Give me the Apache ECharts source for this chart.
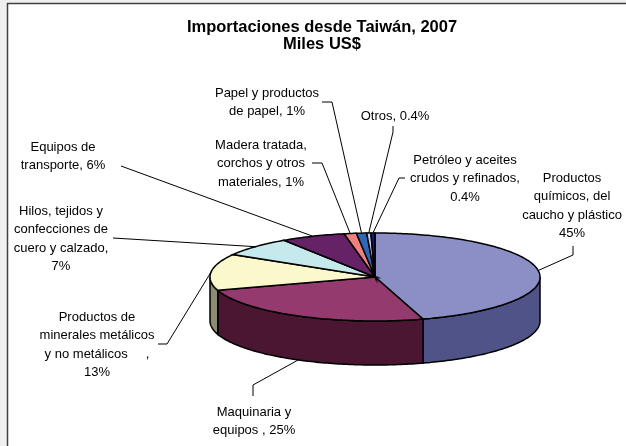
<!DOCTYPE html>
<html>
<head>
<meta charset="utf-8">
<title>Importaciones desde Taiwán, 2007</title>
<script src="https://cdn.jsdelivr.net/npm/echarts@6/dist/echarts.min.js"></script>
<style>
html, body { margin: 0; padding: 0; background: #eff1ef; }
#main { width: 626px; height: 446px; }
</style>
</head>
<body>
<div id="main"></div>
<script>
// participación (%) de cada grupo de productos
const categorias = [
    'Productos químicos, del caucho y plástico',
    'Maquinaria y equipos ',
    'Productos de minerales metálicos y no metálicos     ',
    'Hilos, tejidos y confecciones de cuero y calzado',
    'Equipos de transporte',
    'Madera tratada, corchos y otros materiales',
    'Papel y productos de papel',
    'Otros',
    'Petróleo y aceites crudos y refinados'
];
const valores = [45.3, 24.8, 13.4, 7.2, 6.3, 1.2, 1.0, 0.4, 0.4];

// texto de las etiquetas como lo corta Excel ({p} = porcentaje)
const etiquetas = [
    ['Productos', 'químicos, del', 'caucho y plástico', '{p}'],
    ['Maquinaria y', 'equipos , {p}'],
    ['Productos de', 'minerales metálicos', 'y no metálicos     ,', '{p}'],
    ['Hilos, tejidos y', 'confecciones de', 'cuero y calzado,', '{p}'],
    ['Equipos de', 'transporte, {p}'],
    ['Madera tratada,', 'corchos y otros', 'materiales, {p}'],
    ['Papel y productos', 'de papel, {p}'],
    ['Otros, {p}'],
    ['Petróleo y aceites', 'crudos y refinados,', '{p}']
];

const colores = ['#8b8fc5', '#953a6e', '#fbf9cb', '#c6e9ee', '#662266', '#f08080', '#2e66b8', '#c8c8f0', '#1a1a6a'];
const coloresLado = ['#4f5387', '#4a1632', '#8c8c74', '#7a9598', '#3a103a', '#904848', '#1a3a6a', '#7a7a90', '#0d0d40'];

// posición del texto (centro de la primera línea) y quiebre de la línea guía
const posEtiquetas = [
    {x: 572, y: 178, guia: [[573, 246], [573, 255]]},
    {x: 254, y: 412, guia: [[253, 396], [253, 385]]},
    {x: 97, y: 317, guia: [[158, 344], [167, 344]]},
    {x: 61, y: 211, guia: [[113, 238]]},
    {x: 63, y: 147, guia: [[121, 166]]},
    {x: 261, y: 145, guia: [[312, 163], [322, 163]]},
    {x: 267, y: 93, guia: [[322, 102], [332, 102]]},
    {x: 395, y: 116, guia: [[393, 126], [393, 132]]},
    {x: 465, y: 160, guia: [[405, 178], [399, 178]]}
];

window.addEventListener('load', function () {
    let chart = echarts.init(document.getElementById('main'));

    const fuente = 'Liberation Sans, Arial, sans-serif';
    const cx = 375, cy = 277, rx = 165, ry = 44, alto = 44;
    const lh = 18.5;

    let total = valores.reduce(function (a, b) { return a + b; }, 0);
    let inicio = [];
    let acum = 0;
    valores.forEach(function (v) { inicio.push(acum); acum += v; });

    function punto(g, dy) {
        let r = g * Math.PI / 180;
        return [cx + rx * Math.sin(r), cy - ry * Math.cos(r) + dy];
    }
    function arco(g0, g1, dy) {
        let pts = [];
        let n = Math.max(1, Math.ceil(g1 - g0));
        for (let k = 0; k <= n; k++) pts.push(punto(g0 + (g1 - g0) * k / n, dy));
        return pts;
    }
    function porcentaje(v) {
        let p = Math.round(v / total * 1000) / 10;
        return (p < 1 ? p.toFixed(1) : Math.round(p)) + '%';
    }

    let option = {
        backgroundColor: '#eff1ef',
        animation: false,
        graphic: [
            {
                type: 'rect', z: -10,
                shape: {x: 7.5, y: 3.5, width: 700, height: 500},
                style: {fill: '#ffffff', stroke: '#404040', lineWidth: 1.5}
            },
            {
                type: 'text', z: 10,
                style: {
                    text: 'Importaciones desde Taiwán, 2007\nMiles US$',
                    x: 322, y: 18.5, align: 'center', verticalAlign: 'top',
                    fontSize: 16.5, fontWeight: 'bold', fontFamily: fuente,
                    lineHeight: 17, fill: '#000'
                }
            }
        ],
        series: [{
            type: 'custom',
            coordinateSystem: 'none',
            data: valores.map(function (v, i) { return {name: categorias[i], value: v}; }),
            renderItem: function (params, api) {
                let i = params.dataIndex;
                let a0 = inicio[i] / total * 360;
                let a1 = (inicio[i] + api.value(0)) / total * 360;
                let hijos = [];

                // cara lateral (solo la mitad delantera se ve)
                let s = Math.max(a0, 90), e = Math.min(a1, 270);
                if (e > s) {
                    let pts = arco(s, e, 0).concat(arco(s, e, alto).reverse());
                    hijos.push({
                        type: 'polygon', shape: {points: pts},
                        style: {fill: coloresLado[i], stroke: '#000', lineWidth: 1.5}
                    });
                }
                // cara superior
                hijos.push({
                    type: 'polygon', shape: {points: [[cx, cy]].concat(arco(a0, a1, 0))},
                    style: {fill: colores[i], stroke: '#000', lineWidth: 1.5}
                });

                // línea guía y etiqueta
                let m = (a0 + a1) / 2;
                let ancla = punto(m, (m > 90 && m < 270) ? alto : 0);
                let pe = posEtiquetas[i];
                hijos.push({
                    type: 'polyline', shape: {points: pe.guia.concat([ancla])},
                    style: {stroke: '#000', lineWidth: 1, fill: null}
                });
                let txt = etiquetas[i].join('\n').replace('{p}', porcentaje(api.value(0)));
                hijos.push({
                    type: 'text',
                    style: {
                        text: txt, x: pe.x, y: pe.y - lh / 2,
                        align: 'center', verticalAlign: 'top',
                        fontSize: 13, fontFamily: fuente, lineHeight: lh, fill: '#000'
                    }
                });
                return {type: 'group', children: hijos};
            }
        }]
    };
    chart.setOption(option);
});
</script>
</body>
</html>
